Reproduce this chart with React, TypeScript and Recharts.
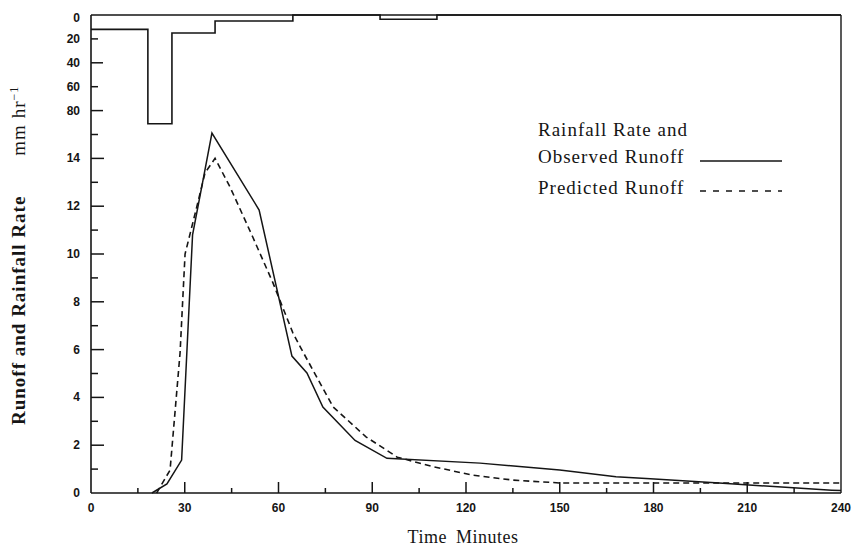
import { ComposedChart, Line, XAxis, YAxis, Legend, Label } from 'recharts';

// Rainfall hyetograph (mm/hr), step values starting at each time (minutes)
const rainTimes = [0, 18.2, 25.9, 39.7, 64.6, 92.5, 110.7, 240];
const rainRates = [12, 91, 15, 5, 0, 3.5, 0, 0];

// Observed runoff (mm/hr)
const observedTimes = [19.5, 24.3, 29, 32.5, 36, 38.7, 53.8, 64.3, 69.1, 74.2, 84.5, 94.7, 124.5, 150, 168, 179, 201, 221, 237, 240];
const observedRunoff = [0, 0.38, 1.38, 10.8, 13.2, 15.06, 11.84, 5.73, 5.02, 3.6, 2.2, 1.45, 1.25, 0.96, 0.68, 0.6, 0.42, 0.25, 0.12, 0.1];

// Predicted runoff (mm/hr)
const predictedTimes = [21, 25.3, 28.5, 30.1, 33.9, 36.5, 39.7, 44.5, 51.8, 58.2, 64.6, 67, 77.5, 88, 98, 109.5, 122, 135, 150, 240];
const predictedRunoff = [0, 0.96, 5.86, 10, 12, 13.4, 14, 12.8, 10.7, 8.8, 6.7, 6.1, 3.6, 2.35, 1.5, 1.1, 0.75, 0.54, 0.42, 0.42];

const timeTicks = [0, 15, 30, 45, 60, 75, 90, 105, 120, 135, 150, 165, 180, 195, 210, 225, 240];
const topTimeTicks = [15, 30, 45, 60, 75, 90, 105, 120];
const runoffTicks = [0, 1, 2, 3, 4, 5, 6, 7, 8, 9, 10, 11, 12, 13, 14, 15];
const rainTicks = [80, 60, 40, 20, 0];

// the left axis is shared: runoff 0..16 below, rainfall 80..0 (inverted) above
const RUNOFF_TOP = 16;
const RAIN_PER_UNIT = 20;
const Y_MAX = RUNOFF_TOP + 80 / RAIN_PER_UNIT;
const rainToY = (r: number) => Y_MAX - r / RAIN_PER_UNIT;

const rainData = rainTimes.map((t, i) => ({ t, y: rainToY(rainRates[i]) }));
const observedData = observedTimes.map((t, i) => ({ t, y: observedRunoff[i] }));
const predictedData = predictedTimes.map((t, i) => ({ t, y: predictedRunoff[i] }));
const leftTicks = [...runoffTicks, ...rainTicks.map(rainToY)];

const INK = '#151515';
const TICK_FONT = { fontFamily: 'Liberation Sans', fontWeight: 700, fontSize: 12, fill: INK };
const SERIF = 'Liberation Serif';

function LeftTick(props: any) {
  const { x, y, payload } = props;
  const v = payload.value;
  let len = 0;
  let label = '';
  let dy = 0;
  if (v < RUNOFF_TOP) {
    len = v === 0 ? 0 : v % 2 === 0 ? 13 : 7;
    if (v % 2 === 0) label = String(v);
  } else {
    const r = Math.round((Y_MAX - v) * RAIN_PER_UNIT);
    len = r === 0 ? 0 : r % 40 === 0 ? 12 : 7;
    label = String(r);
    if (r === 0) dy = 3;
  }
  return (
    <g>
      {len > 0 && <line x1={x} x2={x + len} y1={y} y2={y} stroke={INK} strokeWidth={1.5} />}
      {label && (
        <text x={x - 11} y={y + dy} textAnchor="end" dominantBaseline="central" {...TICK_FONT}>
          {label}
        </text>
      )}
    </g>
  );
}

function BottomTick(props: any) {
  const { x, y, payload } = props;
  const v = payload.value;
  const major = v % 30 === 0;
  const len = v === 0 || v === 240 ? 0 : major ? 11 : 5;
  return (
    <g>
      {len > 0 && <line x1={x} x2={x} y1={y} y2={y - len} stroke={INK} strokeWidth={1.5} />}
      {major && (
        <text x={x} y={y + 15} textAnchor="middle" dominantBaseline="central" {...TICK_FONT}>
          {v}
        </text>
      )}
    </g>
  );
}

function TopTick(props: any) {
  const { x, y, payload } = props;
  const len = payload.value % 30 === 0 ? 9 : 5;
  return <line x1={x} x2={x} y1={y} y2={y + len} stroke={INK} strokeWidth={1.3} />;
}

function LegendBox() {
  return (
    <svg width={270} height={95}>
      <g fontFamily={SERIF} fontSize={19} fill={INK} letterSpacing={1}>
        <text x={8} y={26}>Rainfall Rate and</text>
        <text x={8} y={53}>
          Observed<tspan dx={6}>Runoff</tspan>
        </text>
        <text x={8} y={84}>
          Predicted<tspan dx={6}>Runoff</tspan>
        </text>
      </g>
      <line x1={170} x2={252} y1={51} y2={51} stroke={INK} strokeWidth={1.4} />
      <line x1={170} x2={252} y1={81} y2={81} stroke={INK} strokeWidth={1.4} strokeDasharray="6 7" />
    </svg>
  );
}

export default function App() {
  return (
    <div style={{ position: 'absolute', left: 0, top: 0, width: 852, height: 550, background: '#fff' }}>
      <ComposedChart width={852} height={550} margin={{ top: 0, right: 0, bottom: 0, left: 0 }}>
        <XAxis
          xAxisId="bottom"
          type="number"
          dataKey="t"
          domain={[0, 240]}
          ticks={timeTicks}
          interval={0}
          height={57}
          tickSize={0}
          tickMargin={0}
          tick={<BottomTick />}
          axisLine={{ stroke: INK, strokeWidth: 1.6 }}
          tickLine={false}
        >
          <Label
            content={() => (
              <text x={463} y={543} textAnchor="middle" fontFamily={SERIF} fontSize={18} fill={INK} letterSpacing={0.5}>
                Time<tspan dx={9}>Minutes</tspan>
              </text>
            )}
          />
        </XAxis>
        <XAxis
          xAxisId="top"
          orientation="top"
          type="number"
          dataKey="t"
          domain={[0, 240]}
          ticks={topTimeTicks}
          interval={0}
          height={15}
          tickSize={0}
          tickMargin={0}
          tick={<TopTick />}
          axisLine={{ stroke: INK, strokeWidth: 1.6 }}
          tickLine={false}
        />
        <YAxis
          yAxisId="left"
          type="number"
          domain={[0, Y_MAX]}
          ticks={leftTicks}
          interval={0}
          width={91}
          tickSize={0}
          tickMargin={0}
          tick={<LeftTick />}
          axisLine={{ stroke: INK, strokeWidth: 1.6 }}
          tickLine={false}
        >
          <Label
            content={() => (
              <text
                x={25}
                y={425}
                transform="rotate(-90 25 425)"
                fontFamily={SERIF}
                fontSize={19}
                fill={INK}
                letterSpacing={1}
              >
                <tspan fontWeight={700}>Runoff and Rainfall Rate</tspan>
                <tspan dx={40}>mm hr</tspan>
                <tspan dy={-7} fontSize={12}>−1</tspan>
              </text>
            )}
          />
        </YAxis>
        <YAxis
          yAxisId="right"
          orientation="right"
          type="number"
          domain={[0, Y_MAX]}
          width={11}
          tick={false}
          tickLine={false}
          axisLine={{ stroke: INK, strokeWidth: 1.4 }}
        />
        <Legend
          layout="horizontal"
          verticalAlign="middle"
          align="center"
          wrapperStyle={{ left: 530, top: 110, width: 270, height: 95 }}
          content={() => <LegendBox />}
        />
        <Line
          xAxisId="bottom"
          yAxisId="left"
          data={rainData}
          dataKey="y"
          type="stepAfter"
          stroke={INK}
          strokeWidth={1.6}
          dot={false}
          isAnimationActive={false}
          legendType="none"
        />
        <Line
          xAxisId="bottom"
          yAxisId="left"
          data={observedData}
          dataKey="y"
          type="linear"
          stroke={INK}
          strokeWidth={1.5}
          dot={false}
          isAnimationActive={false}
        />
        <Line
          xAxisId="bottom"
          yAxisId="left"
          data={predictedData}
          dataKey="y"
          type="linear"
          stroke={INK}
          strokeWidth={1.6}
          strokeDasharray="6 4"
          dot={false}
          isAnimationActive={false}
        />
      </ComposedChart>
    </div>
  );
}
